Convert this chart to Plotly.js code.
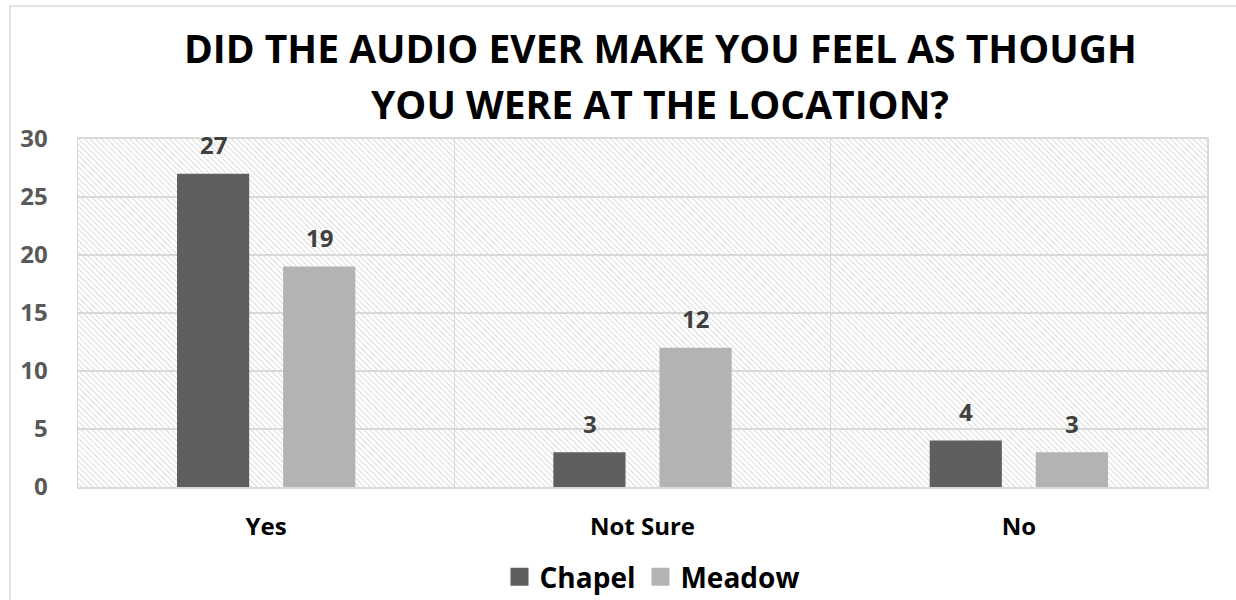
<!DOCTYPE html>
<html>
<head>
<meta charset="utf-8">
<script src="https://cdn.plot.ly/plotly-3.0.1.min.js"></script>
<style>
  html, body { margin: 0; padding: 0; background: #ffffff; }
  #chart { width: 1236px; height: 600px; }
</style>
</head>
<body>
<div id="chart"></div>
<script>
// Survey answers per location
const categories = ["Yes", "Not Sure", "No"];
const chapel = [27, 3, 4];
const meadow = [19, 12, 3];
const seriesNames = ["Chapel", "Meadow"];
const titleLines = ["DID THE AUDIO EVER MAKE YOU FEEL AS THOUGH", "YOU WERE AT THE LOCATION?"];
const yTicks = [0, 5, 10, 15, 20, 25, 30];

const FONT = "'Open Sans', 'DejaVu Sans', sans-serif";
const W = 1236, H = 600;
const margin = { l: 78, r: 29, t: 139, b: 113, autoexpand: false };
const plotW = W - margin.l - margin.r;
const plotH = H - margin.t - margin.b;

// Diagonal hatch fill for the plot area
const hatchSvg =
  "<svg xmlns='http://www.w3.org/2000/svg' width='" + plotW + "' height='" + plotH + "'>" +
  "<defs><pattern id='h' width='4' height='4' patternUnits='userSpaceOnUse' patternTransform='rotate(-45)'>" +
  "<line x1='0' y1='0' x2='0' y2='4' stroke='#c9c9c9' stroke-width='1.3'/></pattern></defs>" +
  "<rect width='100%' height='100%' fill='url(#h)'/></svg>";
const hatchUri = "data:image/svg+xml;base64," + btoa(hatchSvg);

const traces = [
  {
    type: "bar", name: seriesNames[0], x: categories, y: chapel,
    marker: { color: "#5f5f5f" }, hoverinfo: "x+y+name"
  },
  {
    type: "bar", name: seriesNames[1], x: categories, y: meadow,
    marker: { color: "#b3b3b3" }, hoverinfo: "x+y+name"
  }
];

// Value labels above each bar
const labelFont = { family: FONT, size: 24, color: "#404040", weight: "bold" };
const annotations = [];
[chapel, meadow].forEach((vals, s) => {
  vals.forEach((v, i) => {
    annotations.push({
      x: categories[i], y: v, xref: "x", yref: "y",
      text: String(v), showarrow: false, font: labelFont,
      xshift: s === 0 ? -53 : 53, yshift: 29, yanchor: "middle", xanchor: "center"
    });
  });
});

// Two-line chart title
const titleFont = { family: FONT, size: 39, color: "#000000", weight: "bold" };
annotations.push({
  xref: "paper", yref: "paper", x: (660 - margin.l) / plotW, y: 1 + (margin.t - 47) / plotH,
  text: titleLines[0], showarrow: false, font: titleFont, xanchor: "center", yanchor: "middle"
});
annotations.push({
  xref: "paper", yref: "paper", x: (660 - margin.l) / plotW, y: 1 + (margin.t - 103) / plotH,
  text: titleLines[1], showarrow: false, font: titleFont, xanchor: "center", yanchor: "middle"
});

// Outer chart border
const shapes = [{
  type: "rect", xref: "paper", yref: "paper", layer: "below",
  x0: (10 - margin.l) / plotW, x1: (W + 20 - margin.l) / plotW,
  y0: -(H + 20 - margin.t - plotH) / plotH, y1: 1 + (margin.t - 6) / plotH,
  line: { color: "#d9d9d9", width: 1.5 }, fillcolor: "rgba(0,0,0,0)"
}];

const layout = {
  width: W, height: H,
  margin: margin,
  paper_bgcolor: "#ffffff",
  plot_bgcolor: "rgba(0,0,0,0)",
  barmode: "group",
  bargap: 0.436,
  bargroupgap: 0.32,
  showlegend: true,
  legend: {
    orientation: "h", x: (652 - margin.l) / plotW, xanchor: "center", xref: "paper",
    yref: "container", y: 1 - 577 / H, yanchor: "middle",
    font: { family: FONT, size: 28, color: "#000000", weight: "bold" },
    itemwidth: 30, traceorder: "normal"
  },
  xaxis: {
    type: "category",
    tickson: "boundaries",
    showgrid: true, gridcolor: "#d9d9d9", gridwidth: 1.5,
    showline: true, linecolor: "#d9d9d9", linewidth: 2, mirror: true,
    ticks: "", ticklabelstandoff: 17,
    tickfont: { family: FONT, size: 24, color: "#000000", weight: "bold" },
    fixedrange: true
  },
  yaxis: {
    range: [0, 30], tickvals: yTicks,
    showgrid: true, gridcolor: "#d9d9d9", gridwidth: 1.5,
    zeroline: false,
    showline: true, linecolor: "#d9d9d9", linewidth: 1.5, mirror: true,
    ticks: "", ticklabelstandoff: 24,
    tickfont: { family: FONT, size: 24, color: "#595959", weight: "bold" },
    fixedrange: true
  },
  images: [{
    source: hatchUri, xref: "paper", yref: "paper",
    x: 0, y: 1, sizex: 1, sizey: 1, sizing: "stretch",
    xanchor: "left", yanchor: "top", layer: "below"
  }],
  annotations: annotations,
  shapes: shapes
};

Plotly.newPlot("chart", traces, layout, { displayModeBar: false, staticPlot: true }).then(gd => {
  // Larger square swatches in the legend
  gd.querySelectorAll(".legend .legendpoints path").forEach(p => {
    p.setAttribute("d", "M9,9H-9V-9H9Z");
  });
});
</script>
</body>
</html>
